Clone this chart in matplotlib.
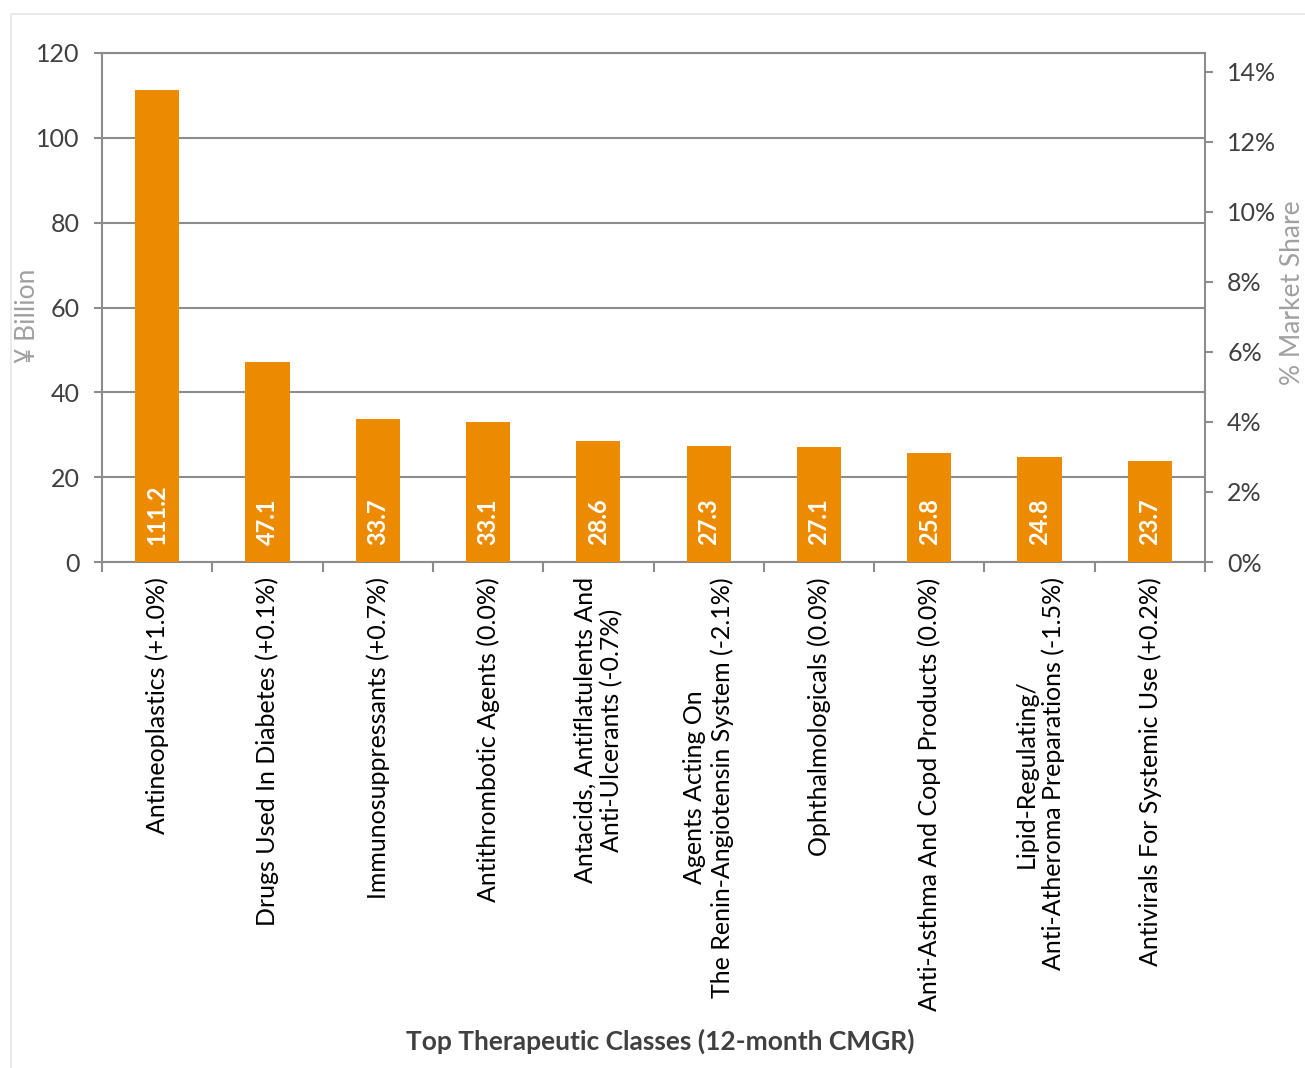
import numpy as np
import matplotlib.pyplot as plt
from matplotlib.patches import Rectangle

# data
classes = [
    "Antineoplastics (+1.0%)",
    "Drugs Used In Diabetes (+0.1%)",
    "Immunosuppressants (+0.7%)",
    "Antithrombotic Agents (0.0%)",
    "Antacids, Antiflatulents And\nAnti-Ulcerants (-0.7%)",
    "Agents Acting On\nThe Renin-Angiotensin System (-2.1%)",
    "Ophthalmologicals (0.0%)",
    "Anti-Asthma And Copd Products (0.0%)",
    "Lipid-Regulating/\nAnti-Atheroma Preparations (-1.5%)",
    "Antivirals For Systemic Use (+0.2%)",
]
sales = [111.2, 47.1, 33.7, 33.1, 28.6, 27.3, 27.1, 25.8, 24.8, 23.7]
share_ticks = [0, 0.02, 0.04, 0.06, 0.08, 0.10, 0.12, 0.14]

plt.rcParams['font.family'] = ['Lato', 'DejaVu Sans']

orange = '#ED8B00'
grid_c = '#8c8c8c'
txt_c = '#404040'

fig = plt.figure(figsize=(13.05, 10.68), dpi=100)
# light outer frame like the exported chart area
fig.patches.append(Rectangle((11 / 1305, -0.01), 1.1, 1 - 14 / 1068 + 0.01,
                             transform=fig.transFigure, fill=False,
                             edgecolor='#e6e6e6', linewidth=1.2))

ax = fig.add_axes([102 / 1305, 1 - 562 / 1068, (1205 - 102) / 1305, (562 - 53) / 1068])

x = np.arange(len(classes))
ax.bar(x, sales, width=0.4, color=orange, zorder=3)

for xi, v in zip(x, sales):
    ax.text(xi, 4, f"{v:.1f}", rotation=90, ha='center', va='bottom',
            color='white', fontsize=17, fontweight='bold', zorder=4)

ax.set_xlim(-0.5, len(classes) - 0.5)
ax.set_ylim(0, 120)
ax.set_yticks(range(0, 121, 20))
ax.grid(axis='y', color=grid_c, linewidth=1.5, zorder=0)
ax.set_axisbelow(True)

ax.set_xticks(x)
ax.set_xticklabels(classes, rotation=90, ha='center', va='top',
                   multialignment='center', fontsize=18, color='black')
ax.tick_params(axis='x', length=0, pad=11)
ax.set_xticks(np.arange(-0.5, len(classes)), minor=True)
ax.tick_params(axis='x', which='minor', length=7, width=1.5, color=grid_c, direction='out')
ax.tick_params(axis='y', length=6, width=1.5, color=grid_c, labelsize=18,
               labelcolor=txt_c, pad=10)

for s in ['left', 'right', 'top', 'bottom']:
    ax.spines[s].set_color(grid_c)
    ax.spines[s].set_linewidth(1.5)

ax.set_ylabel("¥ Billion", fontsize=19, color='#a0a0a0')
ax.yaxis.set_label_coords(-0.056, 0.483)
ax.set_xlabel("Top Therapeutic Classes (12-month CMGR)", fontsize=19,
              fontweight='bold', color=txt_c)
ax.xaxis.set_label_coords(0.506, -0.917)

ax2 = ax.twinx()
ax2.set_ylim(0, 0.1454)
ax2.set_yticks(share_ticks)
ax2.set_yticklabels([f"{int(round(t * 100))}%" for t in share_ticks])
ax2.tick_params(axis='y', length=6, width=1.5, color=grid_c, labelsize=18,
                labelcolor=txt_c, pad=10)
for s in ['left', 'right', 'top', 'bottom']:
    ax2.spines[s].set_visible(False)
ax2.set_ylabel("% Market Share", fontsize=19, color='#a0a0a0')
ax2.yaxis.set_label_coords(1.068, 0.53)

fig.savefig('out.png', dpi=100)
